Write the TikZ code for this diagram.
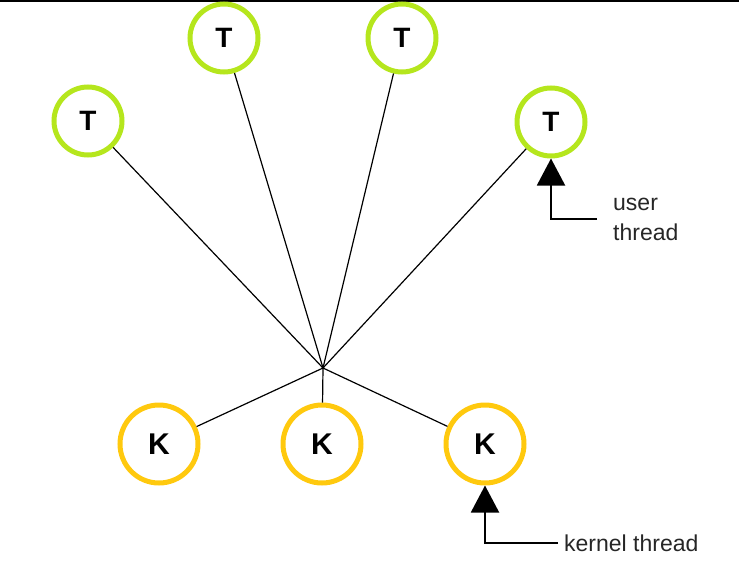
\documentclass[tikz,border=0pt]{standalone}
\usepackage{fontspec}
\setmainfont{Liberation Sans}
\usetikzlibrary{arrows.meta}
\definecolor{ugreen}{RGB}{181,230,29}
\definecolor{kgold}{RGB}{255,201,14}
\tikzset{
  uthread/.style={circle,draw=ugreen,line width=5pt,minimum size=68pt,inner sep=0pt,font=\fontsize{28}{28}\selectfont\bfseries},
  kthread/.style={circle,draw=kgold,line width=5pt,minimum size=78pt,inner sep=0pt,font=\fontsize{30}{30}\selectfont\bfseries},
  link/.style={line width=1.2pt},
  pointer/.style={line width=2pt,-{Triangle[length=27pt,width=28pt]}},
  lbl/.style={font=\fontsize{23}{30}\selectfont,align=left,text=black!85}
}
\begin{document}
\begin{tikzpicture}[x=1pt,y=-1pt]
    \useasboundingbox (0,0) rectangle (739,581);
    \fill (0,0) rectangle (739,2);
    % user threads
    \node[uthread] (t1) at (88,121) {T};
    \node[uthread] (t2) at (224,38) {T};
    \node[uthread] (t3) at (402,38) {T};
    \node[uthread] (t4) at (551,122) {T};
    % kernel threads
    \node[kthread] (k1) at (159,444) {K};
    \node[kthread] (k2) at (322,444) {K};
    \node[kthread] (k3) at (485,444) {K};
    \coordinate (hub) at (323,368);
    \foreach \n in {t1,t2,t3,t4,k1,k2,k3} \draw[link] (hub) -- (\n);
    % labels
    \node[lbl,anchor=west,inner xsep=16pt] (ulab) at (597,219) {user\\thread};
    \node[lbl,anchor=west,inner xsep=6pt] (klab) at (558,543) {kernel thread};
    \draw[pointer] (ulab.west) -| (t4);
    \draw[pointer] (klab.west) -| (k3);
  \end{tikzpicture}
\end{document}
